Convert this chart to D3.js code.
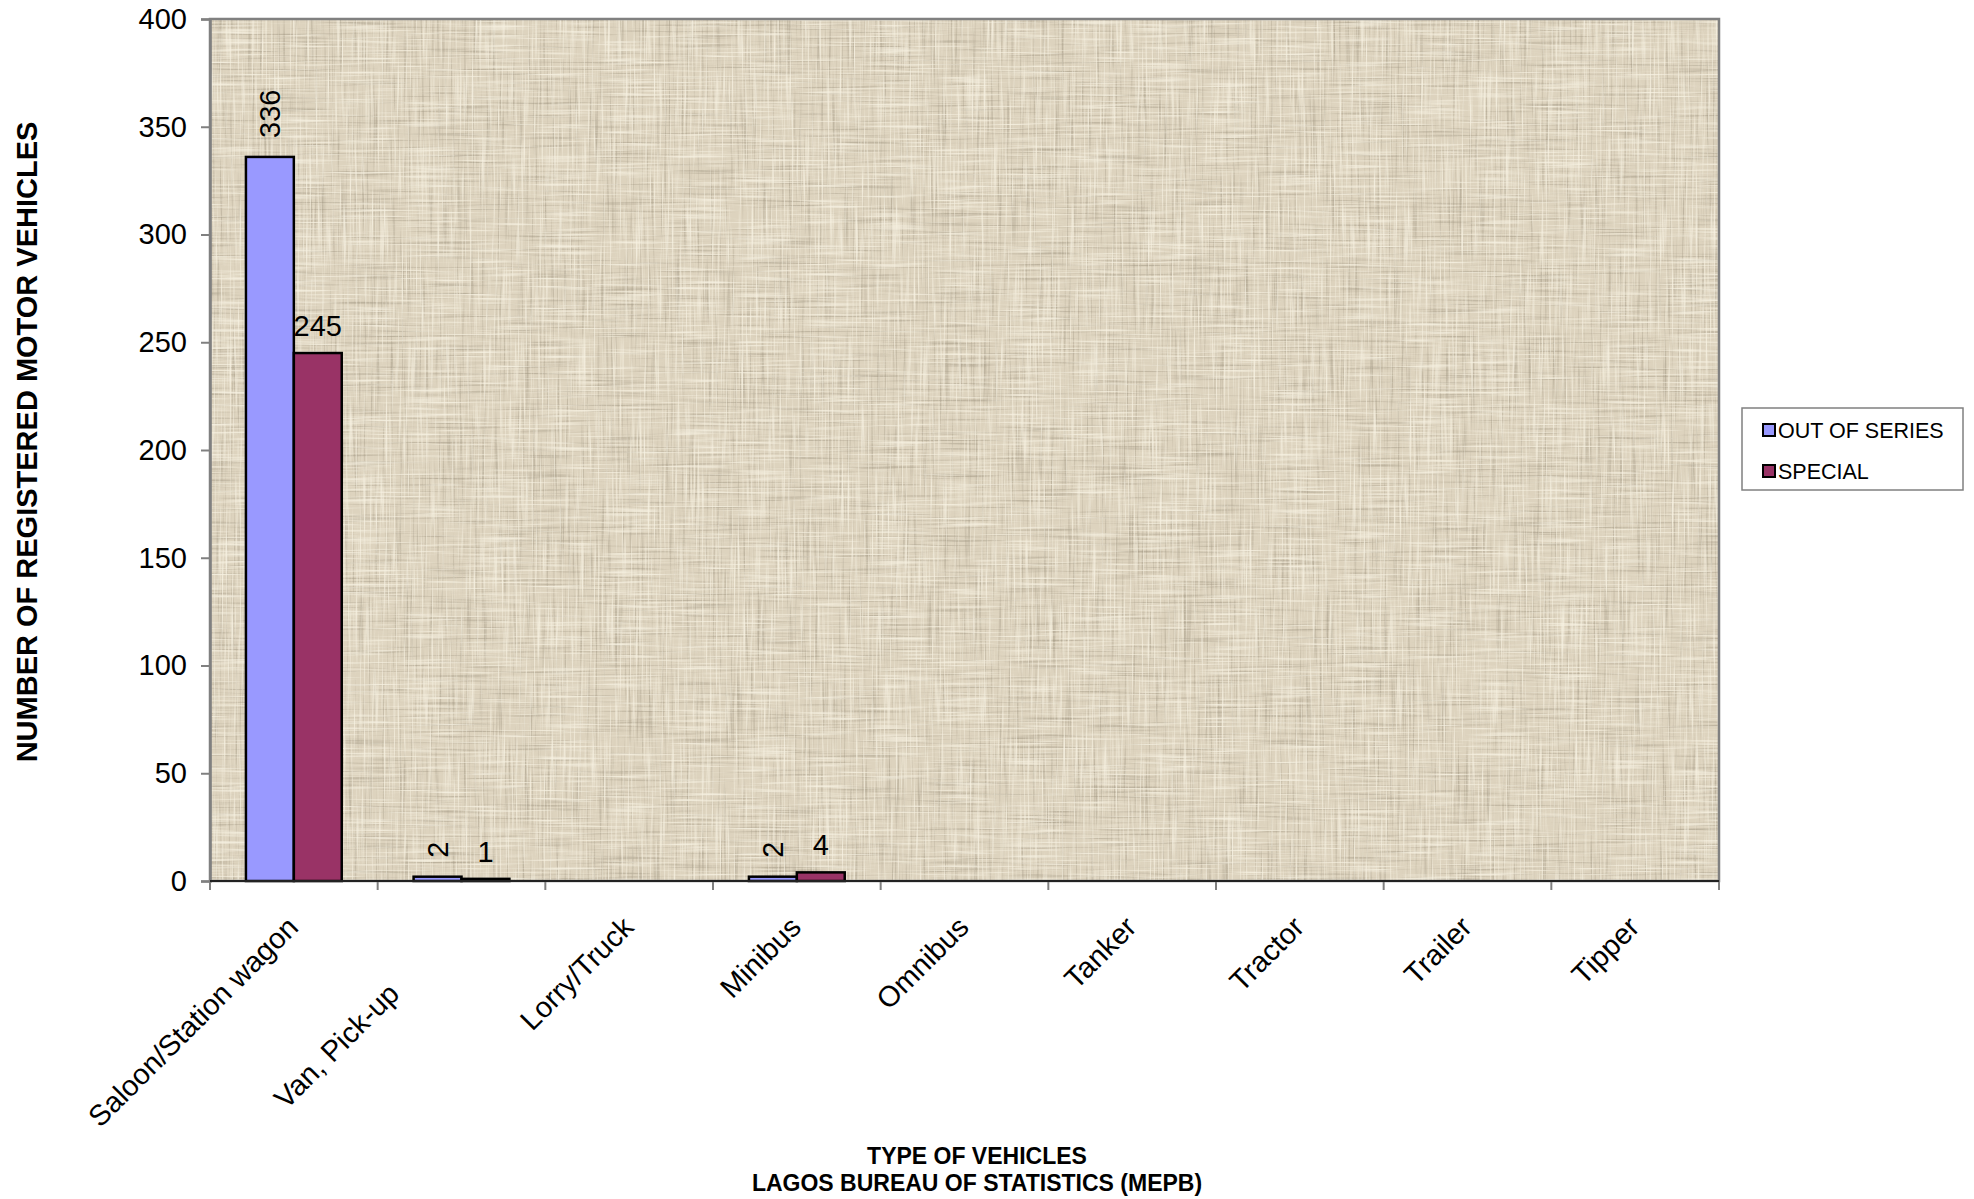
<!DOCTYPE html>
<html>
<head>
<meta charset="utf-8">
<script src="https://cdn.jsdelivr.net/npm/d3@7"></script>
<style>
  html, body { margin: 0; padding: 0; background: #ffffff; }
  svg { display: block; font-family: "Liberation Sans", Arial, sans-serif; }
</style>
</head>
<body>
<svg id="chart" width="1974" height="1199"></svg>
<script>
// ---- data ----
const categories = ["Saloon/Station wagon", "Van, Pick-up", "Lorry/Truck", "Minibus", "Omnibus", "Tanker", "Tractor", "Trailer", "Tipper"];
const seriesNames = ["OUT OF SERIES", "SPECIAL"];
const outOfSeries = [336, 2, 0, 2, 0, 0, 0, 0, 0];
const special = [245, 1, 0, 4, 0, 0, 0, 0, 0];
const yTicks = [0, 50, 100, 150, 200, 250, 300, 350, 400];
const xTitle = ["TYPE OF VEHICLES", "LAGOS BUREAU OF STATISTICS (MEPB)"];
const yTitle = "NUMBER OF REGISTERED MOTOR VEHICLES";

// ---- layout ----
const svg = d3.select("#chart");
const plot = { left: 210, right: 1719, top: 19, bottom: 881 };
const colors = ["#9999FF", "#993366"];
const labelRotated = [true, false];
const FONT = 29;

const x = d3.scaleBand().domain(categories).range([plot.left, plot.right]).paddingInner(0).paddingOuter(0);
const inner = d3.scaleBand().domain(seriesNames).range([0, x.bandwidth()]).paddingInner(0).paddingOuter(0.75);
const y = d3.scaleLinear().domain([0, 400]).range([plot.bottom, plot.top]);

// ---- texture background ----
const defs = svg.append("defs");
function streak(id, freq, seed, rgb, a, b) {
  const f = defs.append("filter").attr("id", id).attr("x", 0).attr("y", 0).attr("width", 1).attr("height", 1)
    .attr("color-interpolation-filters", "sRGB");
  f.append("feTurbulence").attr("type", "fractalNoise").attr("baseFrequency", freq).attr("numOctaves", 2).attr("seed", seed).attr("result", "n");
  f.append("feColorMatrix").attr("in", "n").attr("type", "matrix")
    .attr("values", `0 0 0 0 ${rgb[0]}  0 0 0 0 ${rgb[1]}  0 0 0 0 ${rgb[2]}  ${a} 0 0 0 ${b}`);
}
streak("darkV", "0.45 0.012", 3, [0.62, 0.58, 0.50], 3.2, -1.75);
streak("darkH", "0.012 0.45", 5, [0.62, 0.58, 0.50], 3.2, -1.75);
streak("lightV", "0.5 0.015", 9, [0.97, 0.95, 0.89], 3.0, -1.5);
streak("lightH", "0.015 0.5", 13, [0.97, 0.95, 0.89], 3.0, -1.5);

const pw = plot.right - plot.left, ph = plot.bottom - plot.top;
svg.append("rect").attr("x", plot.left).attr("y", plot.top).attr("width", pw).attr("height", ph).attr("fill", "#ddd3be");
["darkV", "darkH", "lightV", "lightH"].forEach((id, i) => {
  svg.append("rect").attr("x", plot.left).attr("y", plot.top).attr("width", pw).attr("height", ph)
    .attr("filter", `url(#${id})`).attr("opacity", i < 2 ? 0.5 : 0.8);
});
svg.append("rect").attr("x", plot.left).attr("y", plot.top).attr("width", pw).attr("height", ph)
  .attr("fill", "none").attr("stroke", "#808080").attr("stroke-width", 2.5);

// ---- bars ----
const seriesData = [outOfSeries, special];
seriesData.forEach((vals, si) => {
  const g = svg.append("g");
  g.selectAll("rect").data(vals).join("rect")
    .attr("x", (d, i) => x(categories[i]) + inner(seriesNames[si]))
    .attr("y", d => y(d))
    .attr("width", inner.bandwidth())
    .attr("height", d => y(0) - y(d))
    .attr("fill", colors[si])
    .attr("stroke", "#000")
    .attr("stroke-width", 2.5)
    .attr("display", d => d > 0 ? null : "none");
  // data labels
  g.selectAll("text").data(vals).join("text")
    .attr("display", d => d > 0 ? null : "none")
    .attr("font-size", FONT)
    .attr("fill", "#000")
    .each(function(d, i) {
      const cx = x(categories[i]) + inner(seriesNames[si]) + inner.bandwidth() / 2;
      const t = d3.select(this).text(d);
      if (labelRotated[si]) {
        t.attr("transform", `translate(${cx + 10},${y(d) - 19}) rotate(-90)`).attr("text-anchor", "start");
      } else {
        t.attr("x", cx).attr("y", y(d) - 17).attr("text-anchor", "middle");
      }
    });
});

// ---- axes ----
const yAxis = svg.append("g").attr("transform", `translate(${plot.left},0)`)
  .call(d3.axisLeft(y).tickValues(yTicks).tickSize(9).tickPadding(14));
yAxis.select(".domain").attr("stroke", "#808080").attr("stroke-width", 2.5);
yAxis.selectAll(".tick line").attr("stroke", "#808080").attr("stroke-width", 2);
yAxis.selectAll(".tick text").attr("font-size", FONT).attr("fill", "#000").attr("font-family", "'Liberation Sans', Arial, sans-serif");

// category boundary ticks
const bounds = categories.map(c => x(c)).concat([plot.right]);
svg.append("g").selectAll("line").data(bounds).join("line")
  .attr("x1", d => d).attr("x2", d => d).attr("y1", plot.bottom).attr("y2", plot.bottom + 9)
  .attr("stroke", "#808080").attr("stroke-width", 2);
svg.append("line").attr("x1", plot.left).attr("x2", plot.right).attr("y1", plot.bottom).attr("y2", plot.bottom)
  .attr("stroke", "#222").attr("stroke-width", 2);

// category labels (rotated -45)
svg.append("g").selectAll("text").data(categories).join("text")
  .attr("font-size", FONT)
  .attr("fill", "#000")
  .attr("text-anchor", "end")
  .attr("transform", (d, i) => {
    const cx = x(d) + x.bandwidth() / 2;
    const shift = i === 1 ? 94 : 0; // label carries trailing spaces in source sheet
    return `translate(${cx + 6 - shift * Math.SQRT1_2},${plot.bottom + 48 + shift * Math.SQRT1_2}) rotate(-45)`;
  })
  .text(d => d);

// axis titles
svg.append("text").attr("transform", `translate(37,442) rotate(-90)`)
  .attr("text-anchor", "middle").attr("font-size", 29).attr("font-weight", "bold").text(yTitle);
svg.append("g").selectAll("text").data(xTitle).join("text")
  .attr("x", 977).attr("y", (d, i) => 1164 + i * 27)
  .attr("text-anchor", "middle").attr("font-size", 23).attr("font-weight", "bold").text(d => d);

// ---- legend ----
const lg = svg.append("g");
lg.append("rect").attr("x", 1742).attr("y", 408).attr("width", 221).attr("height", 82)
  .attr("fill", "#fff").attr("stroke", "#808080").attr("stroke-width", 1.5);
seriesNames.forEach((name, i) => {
  const yy = 430 + i * 41;
  lg.append("rect").attr("x", 1763).attr("y", yy - 6).attr("width", 12).attr("height", 12)
    .attr("fill", colors[i]).attr("stroke", "#000").attr("stroke-width", 2);
  lg.append("text").attr("x", 1778).attr("y", yy + 8).attr("font-size", 21.5).attr("fill", "#000").text(name);
});
</script>
</body>
</html>
